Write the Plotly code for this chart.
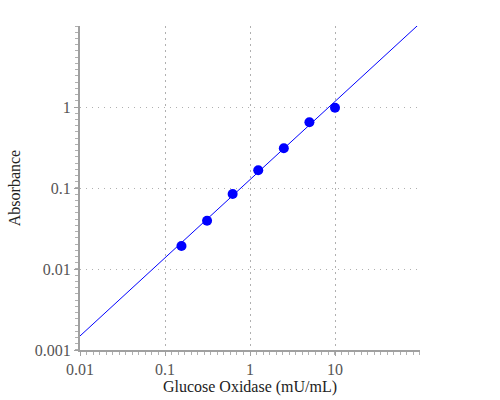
import plotly.graph_objects as go

conc = [0.15625, 0.3125, 0.625, 1.25, 2.5, 5, 10]
absorbance = [0.0192, 0.0394, 0.0843, 0.1655, 0.309, 0.647, 0.98]

fit_x = [0.01, 100]
fit_y = [0.00149, 10.8]

x_ticks = [0.01, 0.1, 1, 10]
x_labels = ["0.01", "0.1", "1", "10"]
y_ticks = [0.001, 0.01, 0.1, 1]
y_labels = ["0.001", "0.01", "0.1", "1"]

SERIF = "Liberation Serif"

fig = go.Figure()
fig.add_trace(go.Scatter(x=fit_x, y=fit_y, mode="lines",
                         line=dict(color="blue", width=1), showlegend=False,
                         cliponaxis=True))
fig.add_trace(go.Scatter(x=conc, y=absorbance, mode="markers",
                         marker=dict(color="blue", size=10), showlegend=False))

axis_common = dict(
    type="log", automargin=False,
    showline=True, linecolor="#a0a0a0", linewidth=2,
    ticks="outside", ticklen=4, tickcolor="#a0a0a0", tickwidth=1,
    showgrid=True, gridcolor="#b0b0b0", gridwidth=1,
    zeroline=False,
    tickfont=dict(family=SERIF, size=16, color="#555"),
    minor=dict(ticks="outside", ticklen=3, tickcolor="#b0b0b0", dtick=0.0769, showgrid=False),
)

fig.update_xaxes(range=[-2, 2], tickvals=x_ticks, ticktext=x_labels, griddash="2px,4px",
                 title=dict(text="Glucose Oxidase (mU/mL)",
                            font=dict(family=SERIF, size=16, color="#222"),
                            standoff=3),
                 **axis_common)
fig.update_yaxes(range=[-3, 1], tickvals=y_ticks, ticktext=y_labels, griddash="1px,5px",
                 title=dict(text="Absorbance",
                            font=dict(family=SERIF, size=16, color="#222"),
                            standoff=10),
                 **axis_common)

fig.update_layout(
    width=500, height=400,
    margin=dict(l=80, r=80, t=26, b=50),
    plot_bgcolor="white", paper_bgcolor="white",
    font=dict(family=SERIF),
)

fig.write_html("out.html")
